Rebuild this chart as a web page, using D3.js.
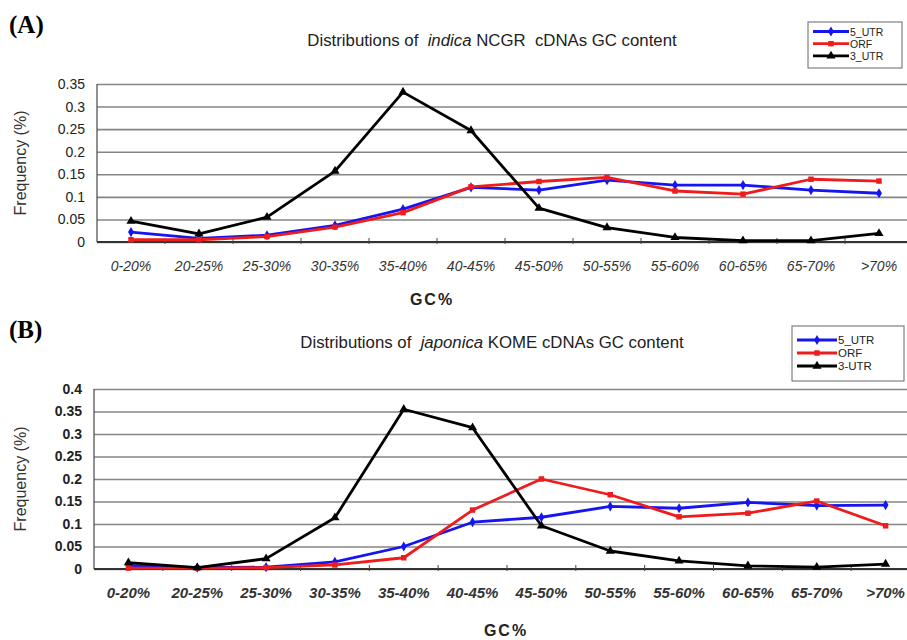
<!DOCTYPE html>
<html>
<head>
<meta charset="utf-8">
<title>GC content distributions</title>
<style>
  body { margin: 0; background: #fff; }
  svg { display: block; font-family: "Liberation Sans", Arial, sans-serif; }
  .title { white-space: pre; }
</style>
</head>
<body>
<svg width="907" height="640"></svg>
<script src="https://cdnjs.cloudflare.com/ajax/libs/d3/7.8.5/d3.min.js"></script>
<script>
// GC content bins
var categories = ['0-20%', '20-25%', '25-30%', '30-35%', '35-40%', '40-45%',
                  '45-50%', '50-55%', '55-60%', '60-65%', '65-70%', '>70%'];

// (A) indica NCGR
var indica5UTR = [0.022, 0.008, 0.015, 0.037, 0.073, 0.121, 0.115, 0.137, 0.126, 0.126, 0.115, 0.108];
var indicaORF  = [0.005, 0.005, 0.012, 0.033, 0.065, 0.122, 0.134, 0.143, 0.113, 0.106, 0.139, 0.135];
var indica3UTR = [0.046, 0.018, 0.055, 0.157, 0.332, 0.247, 0.075, 0.032, 0.010, 0.003, 0.003, 0.019];
var indicaTicks = ['0', '0.05', '0.1', '0.15', '0.2', '0.25', '0.3', '0.35'];

// (B) japonica KOME
var japonica5UTR = [0.008, 0.003, 0.004, 0.016, 0.050, 0.104, 0.115, 0.139, 0.135, 0.148, 0.141, 0.142];
var japonicaORF  = [0.002, 0.002, 0.003, 0.009, 0.025, 0.131, 0.200, 0.165, 0.116, 0.124, 0.151, 0.096];
var japonica3UTR = [0.014, 0.003, 0.023, 0.114, 0.355, 0.314, 0.096, 0.040, 0.018, 0.007, 0.004, 0.011];
var japonicaTicks = ['0', '0.05', '0.1', '0.15', '0.2', '0.25', '0.3', '0.35', '0.4'];

var svg = d3.select('svg');

var seriesStyle = [
    { color: '#1515f0', symbol: d3.symbolDiamond, size: 30 },
    { color: '#ee1c1c', symbol: d3.symbolSquare,  size: 30 },
    { color: '#000000', symbol: d3.symbolTriangle, size: 36 }
];

function drawPanel(p) {
    var g = svg.append('g');

    var x = d3.scalePoint().domain(categories).range([p.left, p.right]).padding(0.5);
    var y = d3.scaleLinear().domain([0, +p.ticks[p.ticks.length - 1]]).range([p.bottom, p.top]);

    // panel letter
    g.append('text').attr('x', 9).attr('y', p.letterY)
        .attr('font-family', '"Liberation Serif", "Times New Roman", serif')
        .attr('font-weight', 'bold').attr('font-size', 25)
        .text(p.letter);

    // title with italic species name
    var t = g.append('text').attr('class', 'title').attr('x', p.titleX).attr('y', p.titleY)
        .attr('text-anchor', 'middle').attr('font-size', 16.8).attr('fill', '#222');
    t.append('tspan').text('Distributions of  ');
    t.append('tspan').attr('font-style', 'italic').text(p.species);
    t.append('tspan').text(p.rest);

    // gridlines
    var yAxis = d3.axisLeft(y).tickValues(p.ticks.map(Number))
        .tickFormat(function(d, i) { return p.ticks[i]; })
        .tickSize(-(p.gridRight - p.left)).tickPadding(12);
    var ya = g.append('g').attr('transform', 'translate(' + p.left + ',0)').call(yAxis);
    ya.select('.domain').remove();
    ya.selectAll('.tick line').attr('stroke', '#858585').attr('stroke-width', 1.6);
    ya.selectAll('.tick text').attr('font-size', p.tickFont).attr('font-weight', p.tickWeight)
        .attr('fill', '#222').attr('font-family', '"Liberation Sans", Arial, sans-serif');

    // left axis line and x axis baseline
    g.append('line').attr('x1', p.left).attr('x2', p.left)
        .attr('y1', p.top).attr('y2', p.bottom).attr('stroke', '#555').attr('stroke-width', 1.3);
    g.append('line').attr('x1', p.left).attr('x2', p.gridRight)
        .attr('y1', p.bottom).attr('y2', p.bottom).attr('stroke', '#333').attr('stroke-width', 1.8);

    // category dividers
    var step = x.step();
    g.selectAll('.div').data(categories.slice(1)).enter().append('line')
        .attr('x1', function(d) { return x(d) - step / 2; })
        .attr('x2', function(d) { return x(d) - step / 2; })
        .attr('y1', p.bottom - 4).attr('y2', p.bottom + 2)
        .attr('stroke', '#444').attr('stroke-width', 1);

    // x labels
    g.selectAll('.xl').data(categories).enter().append('text')
        .attr('x', function(d) { return x(d); }).attr('y', p.xLabelY)
        .attr('text-anchor', 'middle').attr('font-style', 'italic')
        .attr('font-size', p.xFont).attr('font-weight', p.xWeight).attr('fill', '#333')
        .text(function(d) { return d; });

    // axis titles
    g.append('text').attr('transform', 'translate(26,' + ((p.top + p.bottom) / 2) + ') rotate(-90)')
        .attr('text-anchor', 'middle').attr('font-size', 16).attr('fill', '#333')
        .text('Frequency (%)');
    g.append('text').attr('x', p.gcX).attr('y', p.gcY).attr('text-anchor', 'middle')
        .attr('font-size', 16).attr('font-weight', 'bold').attr('letter-spacing', 2)
        .attr('fill', '#222').text('GC%');

    // series
    var line = d3.line().x(function(d, i) { return x(categories[i]); }).y(function(d) { return y(d); });
    p.series.forEach(function(vals, k) {
        var st = seriesStyle[k];
        g.append('path').datum(vals).attr('d', line).attr('fill', 'none')
            .attr('stroke', st.color).attr('stroke-width', 2.8).attr('stroke-linejoin', 'round');
        g.selectAll('.m' + k).data(vals).enter().append('path')
            .attr('transform', function(d, i) { return 'translate(' + x(categories[i]) + ',' + y(d) + ')'; })
            .attr('d', d3.symbol().type(st.symbol).size(st.size)).attr('fill', st.color);
    });

    // legend
    var lg = g.append('g');
    lg.append('rect').attr('x', p.legX).attr('y', p.legY).attr('width', p.legW).attr('height', p.legH)
        .attr('fill', '#fff').attr('stroke', '#666').attr('stroke-width', 1);
    p.legNames.forEach(function(name, k) {
        var st = seriesStyle[k];
        var ly = p.legY + p.legFirst + k * p.legGap;
        lg.append('line').attr('x1', p.legX + 5).attr('x2', p.legX + 5 + p.legLine)
            .attr('y1', ly).attr('y2', ly).attr('stroke', st.color).attr('stroke-width', 2.8);
        lg.append('path').attr('transform', 'translate(' + (p.legX + 5 + p.legLine / 2) + ',' + ly + ')')
            .attr('d', d3.symbol().type(st.symbol).size(st.size)).attr('fill', st.color);
        lg.append('text').attr('x', p.legX + 6 + p.legLine).attr('y', ly + 4)
            .attr('font-size', p.legFont).attr('fill', '#222').text(name);
    });
}

drawPanel({
    letter: '(A)', letterY: 33,
    species: 'indica', rest: ' NCGR  cDNAs GC content', titleX: 492, titleY: 46,
    left: 97, right: 913, gridRight: 907, top: 84, bottom: 242,
    ticks: indicaTicks, tickFont: 14, tickWeight: 'normal',
    xLabelY: 271, xFont: 14, xWeight: 'normal',
    gcX: 432, gcY: 305,
    series: [indica5UTR, indicaORF, indica3UTR],
    legNames: ['5_UTR', 'ORF', '3_UTR'],
    legX: 808, legY: 22, legW: 94, legH: 46, legFirst: 9.5, legGap: 12.2, legLine: 36, legFont: 10.5
});

drawPanel({
    letter: '(B)', letterY: 338,
    species: 'japonica', rest: ' KOME cDNAs GC content', titleX: 492, titleY: 348,
    left: 94, right: 920, gridRight: 907, top: 389, bottom: 569,
    ticks: japonicaTicks, tickFont: 14, tickWeight: 'bold',
    xLabelY: 598, xFont: 15, xWeight: 'bold',
    gcX: 506, gcY: 636,
    series: [japonica5UTR, japonicaORF, japonica3UTR],
    legNames: ['5_UTR', 'ORF', '3-UTR'],
    legX: 792, legY: 326, legW: 112, legH: 55, legFirst: 14, legGap: 13, legLine: 40, legFont: 11.5
});
</script>
</body>
</html>
